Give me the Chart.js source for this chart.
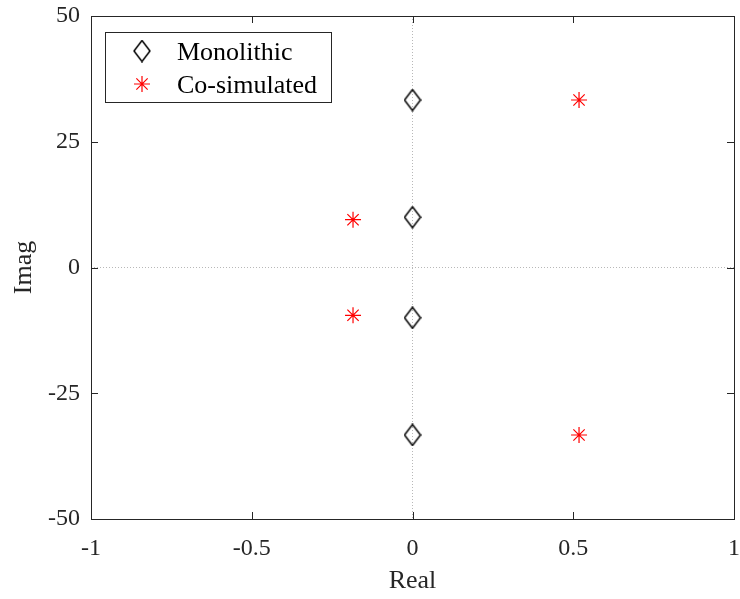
<!DOCTYPE html>
<html>
<head>
<meta charset="utf-8">
<script src="https://cdn.jsdelivr.net/npm/chart.js@4.4.0/dist/chart.umd.min.js"></script>
<style>
html, body { margin: 0; padding: 0; background: #fff; }
</style>
</head>
<body>
<canvas id="poles" width="740" height="599"></canvas>
<script>
// Pole locations
const realTicks = [-1, -0.5, 0, 0.5, 1];
const imagTicks = [-50, -25, 0, 25, 50];
const monoReal = [0, 0, 0, 0];
const monoImag = [33.3, 10, -10, -33.3];
const coReal = [0.518, -0.185, -0.185, 0.518];
const coImag = [33.3, 9.5, -9.5, -33.3];

const FONT = '"Liberation Serif", "Times New Roman", serif';
const AXIS_COLOR = '#262626';

// MATLAB style diamond (taller than wide)
function makeDiamond() {
    const c = document.createElement('canvas');
    c.width = 18; c.height = 23;
    const g = c.getContext('2d');
    g.strokeStyle = '#000';
    g.lineWidth = 1.5;
    g.beginPath();
    g.moveTo(9, 1); g.lineTo(17, 11.5); g.lineTo(9, 22); g.lineTo(1, 11.5);
    g.closePath();
    g.stroke();
    return c;
}
const diamond = makeDiamond();

const toPoints = (xs, ys) => xs.map((x, i) => ({ x: x, y: ys[i] }));

// box + inward ticks on all four sides
const framePlugin = {
    id: 'frame',
    afterDatasetsDraw(chart) {
        const { ctx, chartArea: a, scales } = chart;
        const len = 7;
        ctx.save();
        ctx.strokeStyle = AXIS_COLOR;
        ctx.lineWidth = 1;
        ctx.strokeRect(Math.round(a.left) + 0.5, Math.round(a.top) + 0.5,
            Math.round(a.right - a.left), Math.round(a.bottom - a.top));
        ctx.beginPath();
        scales.x.ticks.forEach(t => {
            const px = Math.round(scales.x.getPixelForValue(t.value)) + 0.5;
            ctx.moveTo(px, a.bottom); ctx.lineTo(px, a.bottom - len);
            ctx.moveTo(px, a.top); ctx.lineTo(px, a.top + len);
        });
        scales.y.ticks.forEach(t => {
            const py = Math.round(scales.y.getPixelForValue(t.value)) + 0.5;
            ctx.moveTo(a.left, py); ctx.lineTo(a.left + len, py);
            ctx.moveTo(a.right, py); ctx.lineTo(a.right - len, py);
        });
        ctx.stroke();
        ctx.restore();
    }
};

// legend inside the axes, top-left
const boxLegend = {
    id: 'boxLegend',
    afterDraw(chart) {
        const { ctx, chartArea: a } = chart;
        const x = Math.round(a.left) + 14, y = Math.round(a.top) + 16, w = 226, h = 70;
        ctx.save();
        ctx.fillStyle = '#fff';
        ctx.fillRect(x, y, w, h);
        ctx.strokeStyle = AXIS_COLOR;
        ctx.lineWidth = 1;
        ctx.strokeRect(x + 0.5, y + 0.5, w, h);
        chart.data.datasets.forEach((ds, i) => {
            const cy = y + 19 + i * 33;
            ctx.strokeStyle = ds.borderColor;
            ctx.fillStyle = ds.backgroundColor;
            ctx.lineWidth = ds.borderWidth;
            Chart.helpers.drawPoint(ctx, {
                pointStyle: ds.pointStyle, radius: ds.pointRadius,
                borderWidth: ds.borderWidth, rotation: 0
            }, x + 37, cy);
            ctx.fillStyle = '#000';
            ctx.font = '26px ' + FONT;
            ctx.textBaseline = 'alphabetic';
            ctx.textAlign = 'left';
            ctx.fillText(ds.label, x + 72, cy + 9);
        });
        ctx.restore();
    }
};

const tickFont = { family: FONT, size: 24 };
const titleFont = { family: FONT, size: 26 };
const zeroGrid = ctx => (ctx.tick && ctx.tick.value === 0) ? '#b8b8b8' : 'rgba(0,0,0,0)';
const plainLabel = v => String(v);

new Chart(document.getElementById('poles'), {
    type: 'scatter',
    data: {
        datasets: [{
            label: 'Monolithic',
            data: toPoints(monoReal, monoImag),
            pointStyle: diamond,
            pointRadius: 9,
            borderColor: '#000',
            backgroundColor: 'rgba(0,0,0,0)',
            borderWidth: 1.5
        }, {
            label: 'Co-simulated',
            data: toPoints(coReal, coImag),
            pointStyle: 'star',
            pointRadius: 8,
            borderColor: '#ff0000',
            backgroundColor: '#ff0000',
            borderWidth: 1.2
        }]
    },
    options: {
        responsive: false,
        animation: false,
        devicePixelRatio: 1,
        layout: { autoPadding: false, padding: { top: 16, right: 6, left: 0, bottom: 0 } },
        plugins: { legend: { display: false }, tooltip: { enabled: false } },
        scales: {
            x: {
                type: 'linear', min: -1, max: 1,
                afterBuildTicks: s => { s.ticks = realTicks.map(v => ({ value: v })); },
                afterFit: s => { s.height = 80; s.paddingLeft = 0; s.paddingRight = 0; },
                ticks: { font: tickFont, color: AXIS_COLOR, padding: 15, maxRotation: 0, callback: plainLabel },
                grid: { color: zeroGrid, lineWidth: 1, drawTicks: false },
                border: { display: false, dash: [1, 2] },
                title: { display: true, text: 'Real', font: titleFont, color: AXIS_COLOR, padding: { top: 0, bottom: 2 } }
            },
            y: {
                type: 'linear', min: -50, max: 50,
                afterBuildTicks: s => { s.ticks = imagTicks.map(v => ({ value: v })); },
                afterFit: s => { s.width = 91; s.paddingTop = 0; s.paddingBottom = 0; },
                ticks: { font: tickFont, color: AXIS_COLOR, padding: 11, callback: plainLabel },
                grid: { color: zeroGrid, lineWidth: 1, drawTicks: false },
                border: { display: false, dash: [1, 2] },
                title: { display: true, text: 'Imag', font: titleFont, color: AXIS_COLOR, padding: { top: 9, bottom: 0 } }
            }
        }
    },
    plugins: [framePlugin, boxLegend]
});
</script>
</body>
</html>
